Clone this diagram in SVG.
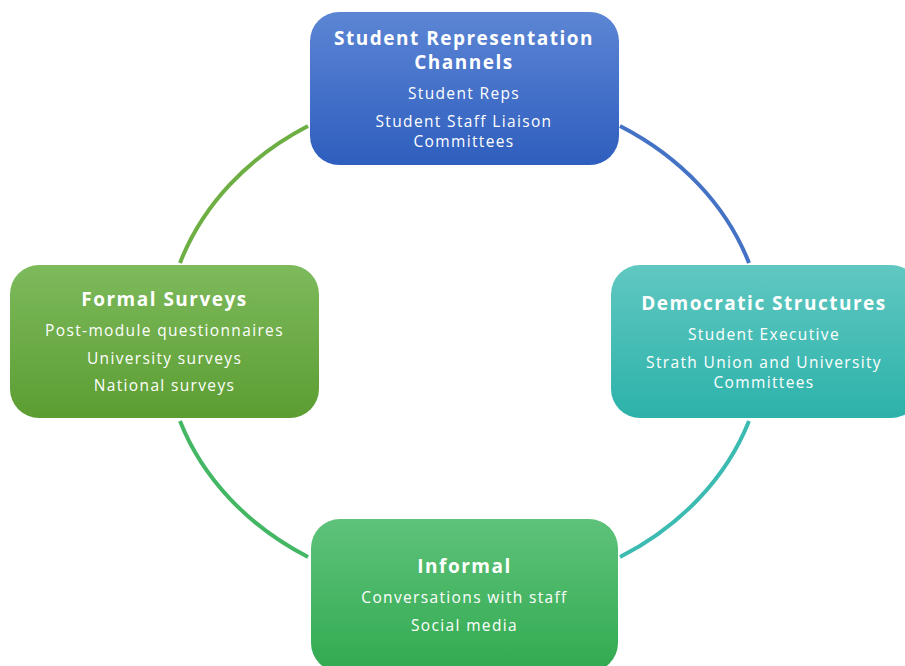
<svg xmlns="http://www.w3.org/2000/svg" width="905" height="666" viewBox="0 0 905 666">
<defs>
<linearGradient id="gBlue" x1="0" y1="0" x2="0" y2="1"><stop offset="0" stop-color="#5c85d4"/><stop offset="1" stop-color="#2e5ebe"/></linearGradient>
<linearGradient id="gTeal" x1="0" y1="0" x2="0" y2="1"><stop offset="0" stop-color="#60c8c1"/><stop offset="1" stop-color="#2cb2aa"/></linearGradient>
<linearGradient id="gLime" x1="0" y1="0" x2="0" y2="1"><stop offset="0" stop-color="#7dba5c"/><stop offset="1" stop-color="#5c9d32"/></linearGradient>
<linearGradient id="gGreen" x1="0" y1="0" x2="0" y2="1"><stop offset="0" stop-color="#5ec27a"/><stop offset="1" stop-color="#32aa50"/></linearGradient>
</defs>
<style>
.arc{fill:none;stroke-width:4}
.t{font-family:"Open Sans","Noto Sans","DejaVu Sans",sans-serif;font-weight:bold;font-size:19px;letter-spacing:1.5px;fill:#ffffff;text-anchor:middle}
.s{font-family:"Open Sans","Noto Sans","DejaVu Sans",sans-serif;font-size:15.5px;letter-spacing:1.35px;fill:#ffffff;text-anchor:middle}
</style>
<rect width="905" height="666" fill="#ffffff"/>
<g id="connectors">
<path class="arc" stroke="#4472c4" d="M620,126 A299,253 0 0 1 749,263"/>
<path class="arc" stroke="#3bbbb1" d="M749,421 A299,253 0 0 1 620,557"/>
<path class="arc" stroke="#43b764" d="M308,557 A299,253 0 0 1 180,421"/>
<path class="arc" stroke="#6daf42" d="M180,263 A299,253 0 0 1 308,126"/>
</g>
<g id="node-representation">
<rect x="310" y="12" width="309" height="153" rx="29" fill="url(#gBlue)"/>
<text class="t" x="464" y="45">Student Representation</text>
<text class="t" x="464" y="69">Channels</text>
<text class="s" x="464" y="99">Student Reps</text>
<text class="s" x="464" y="127">Student Staff Liaison</text>
<text class="s" x="464" y="147">Committees</text>
</g>
<g id="node-democratic">
<rect x="611" y="265" width="309" height="153" rx="29" fill="url(#gTeal)"/>
<text class="t" x="764" y="310">Democratic Structures</text>
<text class="s" x="764" y="340">Student Executive</text>
<text class="s" x="764" y="367.5">Strath Union and University</text>
<text class="s" x="764" y="387.5">Committees</text>
</g>
<g id="node-formal">
<rect x="10" y="265" width="309" height="153" rx="29" fill="url(#gLime)"/>
<text class="t" x="164.5" y="306">Formal Surveys</text>
<text class="s" x="164.5" y="336">Post-module questionnaires</text>
<text class="s" x="164.5" y="364">University surveys</text>
<text class="s" x="164.5" y="391">National surveys</text>
</g>
<g id="node-informal">
<rect x="311" y="519" width="307" height="153" rx="29" fill="url(#gGreen)"/>
<text class="t" x="464.5" y="573">Informal</text>
<text class="s" x="464.5" y="603">Conversations with staff</text>
<text class="s" x="464.5" y="631">Social media</text>
</g>
</svg>
